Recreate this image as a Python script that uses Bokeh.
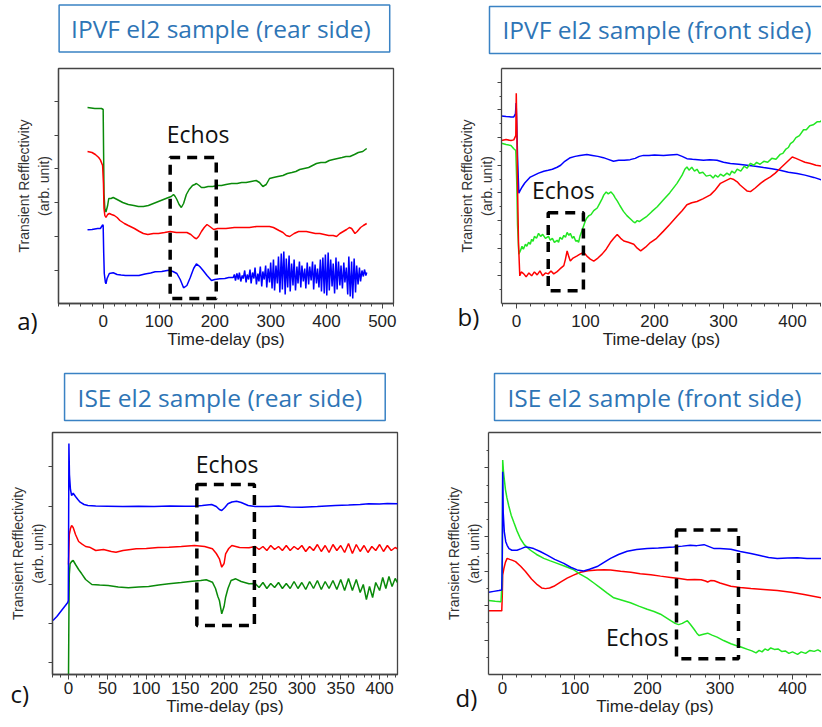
from bokeh.plotting import figure
from bokeh.layouts import row, column
from bokeh.models import (Label, BoxAnnotation, SingleIntervalTicker, FixedTicker, Range1d, LinearAxis)
from bokeh.embed import file_html
from bokeh.resources import INLINE

# ---------------- data (time-delay in ps, signal in arbitrary units) ----------------
A_GREEN = [(-28,196),(-15,195),(-3,195),(0,194),(0.8,150),(1.5,110),(3,95),(5,91.5),(8,98),(10,105),
           (14,105),(18,106),(25,104),(35,101),(45,99),(55,98),(63,97),(72,97),(81,98),(90,100),(99,102),
           (108,104),(117,106),(122,107),(126,109),(129,107),(132,104),(136,99),(140,96),(144,100),
           (149,109),(154,114),(160,118),(164,119),(167,120),(172,118),(176,116),(181,116),(188,117),
           (196,117),(205,118),(212,118),(220,119),(230,120),(240,120),(248,121),(256,121),(265,122),
           (274,123),(280,121),(286,117),(292,119),(298,125),(305,126),(313,127),(322,128),(330,130),
           (338,131),(345,132),(352,134),(360,135),(368,136),(375,138),(382,140),(390,141),(398,141),
           (405,143),(412,144),(420,145),(428,146),(435,147),(442,147),(450,149),(457,151),(465,152),(472,155)]
A_RED = [(-28,152),(-20,151),(-14,149),(-8,146),(-5,143.6),(-1,138),(0.5,120),(1.5,95),(3,88),(5,86),
         (8,89),(11,90),(15,89),(20,88),(25,86),(30,83),(38,80),(45,78),(56,75),(65,72),(72,70),(80,69),
         (90,70),(99,70),(110,71),(120,72),(131,71),(140,71),(150,71),(157,69),(163,66),(167,64.7),
         (171,67),(176,72),(181,76),(186,79),(191,77),(198,74),(205,75),(212,75),(220,75),(235,76),
         (250,76),(262,76),(275,77),(285,77),(298,77),(305,76),(315,73),(322,71),(328,68),(334,67),
         (342,70),(350,72),(358,72),(364,72),(372,71),(380,70),(388,70),(396,69),(404,68),(412,68),
         (418,67),(424,70),(430,72),(436,74),(441,76),(445,75),(451,70),(455,72),(461,76),(466,78),(472,80)]
A_BLUE = [(-28,73.7),(-20,74),(-10,75),(-5,75),(-1,78.7),(0,78),(1,50),(2,30),(4,21),(5,19.7),(7,25),
          (11,30),(18,30.7),(25,29),(32,28.5),(40,28),(50,28),(64,28),(75,29.5),(85,30.5),(93,31.7),
          (105,32),(117,33.3),(125,32),(132,30),(138,24),(144,15.7),(150,18),(156,26),(162,35),(167,39.7),
          (173,37),(179,33),(186,28),(194,23),(200,24),(209,24.7),(218,25),(225,26),(233,26),
          (235,29),(237,23),(239.5,30),(242,24),(244,31),(246.5,22),(249,28),(251,25),(253.5,33),(256,21),
          (258,29),(260.5,24),(263,34),(265,20),(267.5,31),(270,25),(272,36),(274.5,19),(277,30),(279,22),
          (281.5,37),(284,17),(286,32),(288.5,24),(291,38),(293,16),(295.5,35),(298,21),(300,41),(302.5,15),
          (305,44),(307,13),(309.5,38),(312,20),(314,47),(316.5,11),(319,50),(321,14),(323.5,52),(326,9),
          (328,45),(330.5,16),(333,48),(335,12),(337.5,40),(340,18),(342,44),(344.5,13),(347,37),(349,20),
          (351.5,42),(354,16),(356,38),(358.5,22),(361,35),(363,15),(365.5,41),(368,19),(370,37),(372.5,23),
          (375,42),(377,14),(379.5,39),(382,20),(384,35),(386.5,16),(389,44),(391,12),(393.5,46),(396,10),
          (398,49),(400.5,8),(403,51),(405,13),(407.5,44),(410,17),(412,40),(414.5,10),(417,46),(419,14),
          (421.5,42),(424,18),(426,38),(428.5,15),(431,41),(433,21),(435.5,36),(438,9),(440,47),(442.5,7),
          (445,42),(447,5),(449.5,45),(452,11),(454,38),(456.5,19),(459,36),(461,22),(463.5,33),(466,27),
          (468,34),(470.5,28),(472,31)]

B_BLUE = [(-21.7,190),(-15,189.5),(-8,189),(-3.9,189),(-1.5,192),(-0.5,203),(0.3,185),(1.5,150),
          (3.4,111.7),(5,114),(8.2,118),(12,122),(16,125),(20,128),(26,130),(32,132),(39.6,134),(46,135),
          (52,136),(58.9,138),(64,140),(70,144),(78,147.7),(85,149),(92,150),(102,151),(110,150),(118,149),
          (126,147.7),(133,146),(140.6,144),(148,145),(156,145),(164.7,145.7),(172,147),(178,149),(184,150),
          (192,150),(200,150.5),(213,150),(222,150.5),(232.6,151),(240,149),(247,146.7),(255,146),
          (263,145.5),(271,145),(280,145.5),(290.6,145),(300,143),(310,141.7),(322,141),(334,140),
          (346,139),(358,137.7),(370,136.5),(382,135),(394,133),(406.7,131.7),(418,130),(430.9,127.7),(443,125)]
B_RED = [(-21.7,165),(-15,166),(-8,165),(-3.9,165.7),(-1,170),(-0.3,213),(0.5,180),(1.5,120),(3,60),
         (4.8,28),(7,32),(10.6,30),(14,27),(18,31),(22,28),(26,32),(30,29),(34,33),(38,28),(42,31),(46,30),
         (50,33),(54,30),(58.9,32.3),(63,35),(68.6,38.3),(71,45),(73.4,53.3),(76,47),(78,43),(82,46),
         (87.9,48.3),(92,50),(97.5,51.7),(102,48),(107,45),(112,43),(118,46),(124,50),(130,55),(136,61.7),
         (141,66),(146,70),(151,66),(155.6,63.3),(162,62),(170,60),(175,56),(180,53.3),(187,57),(194,61.7),
         (203,66),(213,73.3),(222,80),(232.6,88.3),(240,94),(247,100),(254,102),(261.6,103.3),(270,106),
         (281,110),(288,115),(295.6,121.7),(302,124),(310,126.7),(315,125.5),(319.8,123.3),(324,120),
         (329.5,116.7),(334,114),(339.1,113.3),(346,117),(353.6,121.7),(360,125),(368,128.3),(375,132),
         (382,136.7),(390,142),(399.6,148.3),(405,147),(411.6,145),(418,143),(426,141.7),(434,140),(443,139)]
B_GREEN = [(-21.7,162.3),(-15,161),(-8,160),(-3.9,156.7),(-1,155),(0.5,120),(1.5,80),(3.4,50),(6,54),
           (8,58),(10,55),(13,60),(15,58),(17.6,62),(20,60),(22,65),(24,63),(26,68),(29,66),(32,71),(35,68),
           (38,70),(42,66),(46.4,68),(49,64),(52,66),(55,62),(58.9,64),(61,62),(63,67),(66,65),(68.6,69),
           (71,67),(73.4,72),(76,69),(78,71),(81,66),(83,68),(86,63),(88,64),(90,62),(92,68),(95,74),(97,78),
           (100,84),(102,86.7),(105,89),(108,90),(112,94),(117,96.7),(121,102),(124,106),(126.6,110),
           (130,113),(133,111),(137,113),(140.6,110),(143,107),(146,104),(150,99),(155,93.3),(160,89),
           (166,85),(169,83),(172,81.7),(175,84),(178,83),(184,86),(189,88.3),(196,93),(204,98),(213,105),
           (222,112),(232.6,121.7),(240,130),(244,136),(247,138.3),(250,135),(254,138),(258,134),(261.6,136),
           (265,132),(270,133),(275,129),(281,130),(285,127),(288,130),(292,128),(295.6,131),(300,129),
           (305,132),(309,130),(312,134),(316,132),(319.8,136),(325,134),(330,139),(334,137),(339.1,142),
           (344,140),(348,143),(353,141),(358.4,144),(364,143),(370,147),(376,146),(382,151),(386,152),
           (390,156),(394,158),(397,162),(401,164),(405,168),(410,170),(416,176),(420,176),(425,180),
           (430,181),(435.6,184),(440,184),(443,186)]

C_BLUE = [(-20,54),(-15,58),(-10,63),(-5,68),(-1,72),(-0.3,74),(0,120),(0.5,231),(1.2,200),(2.5,185),
          (4,179),(6,181.3),(9,178),(12,175),(15,172.3),(20,170),(25,169),(35,168.5),(50,168.3),(70,168),
          (90,168.3),(110,168),(130,168.5),(150,168.3),(162,168.3),(172,169),(184,170),(190,168),(194,165),
          (197,164),(201,167),(205,170.7),(210,172.5),(216,173.3),(222,172),(231,169),(240,168),(257,168),
          (270,168.5),(285,167.5),(300,167.3),(320,168),(343,169),(360,169.5),(375,170),(386,170.7),
          (400,170.5),(410,171),(424,170.7)]
C_RED = [(0,110),(1,140),(2.5,146),(4,149),(6,147),(9,140),(13,133),(17,130.7),(22,128),(27,127.3),
         (35,124),(45,125),(55,123),(61,122.3),(70,124),(80,125),(87,125.7),(100,126),(115,127),(129,127.3),
         (145,128),(162,129),(175,128),(185,125.7),(190,121),(194,115.7),(197,107.3),(200,111),(202,120.7),
         (206,126),(210,129),(220,127),(232,126.7),(240,128),(245,125),(250,128),(255,124),(260,129),
         (265,125),(270,128),(275,124),(280,129),(285,124),(290,128),(295,125),(300,129),(305,123),
         (310,128),(315,124),(320,130),(325,123),(330,129),(335,122),(340,130),(345,124),(350,129),
         (355,122),(360,131),(365,121),(370,130),(375,123),(380,129),(385,122),(390,128),(395,124),
         (400,130),(405,123),(410,129),(415,124),(420,127),(423,125.7)]
C_GREEN = [(0,0),(0.5,60),(1,100),(2,110.7),(4,113),(6,114),(9,110),(13,105),(17,100.7),(22,95),(30,90),
           (40,89.5),(51,89),(64,87.5),(77,86.7),(90,87.5),(103,88),(116,89.5),(129,90.7),(145,92),
           (159,93.3),(170,94),(177,94.7),(185,92.3),(189,86),(192,78),(194,74),(197,60.7),(200,68),
           (202,77.3),(205,86),(209,94),(215,95.7),(222,93),(232,90.7),(240,91),(245,87),(250,92),(255,86),
           (260,91),(265,87),(270,92),(275,86),(280,91),(285,86),(290,93),(295,86),(300,92),(305,85),
           (310,93),(315,86),(320,94),(325,85),(330,93),(335,86),(340,94),(345,85),(350,95),(355,84),
           (360,96),(365,84),(370,95),(375,82),(379,90),(383,75),(387,88),(391,77),(395,92),(400,84),
           (404,97),(408,86),(412,98),(416,88),(420,96),(423,92)]

D_BLUE = [(-19,83.7),(-12,84.5),(-5,85.3),(-1,86),(-0.3,120),(0.3,206),(1,164.7),(2.5,145),(4.5,135),
          (6.4,131.3),(9,128),(13,126.3),(20,126.3),(26,128),(31.7,129.7),(37,129),(43,128),(52,125),
          (61.6,121.3),(72,117),(84.6,113),(94,109),(103,106.3),(112,105.3),(120,107),(130.6,109.7),
          (140,114),(149,118),(160,122),(172,125.3),(185,127),(199.6,128),(215,128.5),(236,129.7),
          (248,130.5),(259,131.3),(268,131),(278,132),(285,130),(292,128),(300,128),(315,127.3),(328,125),
          (342.5,123),(355,121),(367,119),(379,118),(393,118.5),(407,118.7),(420,118),(440,118)]
D_RED = [(-19,64.7),(-10,64.7),(-1,64.7),(-0.3,80),(0.3,101.3),(2,108),(4,114),(6.4,118),(10,117),
         (14,116),(18,114.7),(25,110),(31.7,104.7),(40,97),(48,91.3),(54,88),(59.3,87.3),(65,88),
         (70.8,89.7),(80,94),(89.2,98),(98,101),(107.6,104),(118,105.5),(130.6,106.3),(140,106.5),
         (149,106.3),(163,105),(177,104),(190,102.5),(204.6,101.3),(218,100),(232,98.7),(244,97.5),
         (255,96.3),(265,96.5),(274,96.3),(280,95),(283,94),(287,95.5),(292,95.3),(300,93),(315,89.7),
         (328,88.5),(342.5,87.3),(360,86.5),(379,85.3),(398,83.5),(416,81.3),(440,78)]
D_GREEN = [(-19,75.3),(-10,74.5),(-2,74),(-0.3,100),(0.3,218),(1.5,205),(4.1,188),(6,180),(8.7,171.3),
           (12,162),(15.6,154.7),(20,146),(24.8,138),(30,132),(38.6,126.3),(47,122),(57,118),(66,115.5),
           (75.4,113),(86,110),(98.4,106.3),(107,102),(116.8,98),(126,93),(135,88),(144,83),(153.5,78),
           (165,75.5),(176.5,73),(188,69.5),(199.6,66.3),(209,64),(218,61.3),(225,58),(232,54.7),(238,52),
           (243,50.7),(248,52),(253,54),(255,54.7),(259,51),(264,46.3),(268,42),(271,39.7),(277,41),
           (283,42),(289,40),(296,38),(305,34.5),(315,31.3),(322,29.5),(329,28),(338,25.5),(344,24),
           (349.7,22),(354,24.5),(358,23),(362,26),(366,24.5),(370,27),(375,25.5),(380,26),(385,23.5),
           (390,24),(395,21.5),(400,23),(407,20.5),(412,23),(418,21.5),(424,24.5),(430,23.5),(435,25),(440,23)]

# echo windows: (t_start, t_end, low, high) and "Echos" label anchor (t, level)
ECHO_BOX = {"a": (120, 202.5, 5, 146), "b": (46, 97, 13, 92), "c": (165, 239, 49, 190), "d": (240, 325.5, 16, 147)}
ECHO_TXT = {"a": (170, 170), "b": (68, 115), "c": (204, 211), "d": (186, 38)}

TITLES = {"a": "IPVF el2 sample (rear side)", "b": "IPVF el2 sample (front side)",
          "c": "ISE el2 sample (rear side)", "d": "ISE el2 sample (front side)"}
# title-box anchors (t, level) and panel tag anchors (t, level), in each panel's data units
TITLE_POS = {"a": (-78.9, 275), "b": (-39.1, 277), "c": (-5.1, 277.5), "d": (-11.0, 282)}
TITLE_PAD = {"a": (12, 19), "b": (13, 40), "c": (13, 23), "d": (13, 40)}
TAG_POS = {"a": (-154.1, -17), "b": (-85.5, -13), "c": (-74.6, -19), "d": (-64.8, -23)}

BLUE, RED, DGREEN, LGREEN = "#0000ff", "#ff0000", "#0a8a0a", "#22e622"
TITLE_BLUE = "#2e75b6"
AX = "#444444"


def unzip(pairs):
    return [q[0] for q in pairs], [q[1] for q in pairs]


def panel(key, w, h, ml, mr, mt, mb, xr, yr, xint, yticks, yminor, curves, tag_side, full_box,
          lab_standoff):
    p = figure(width=w, height=h, x_range=Range1d(*xr), y_range=Range1d(*yr),
               output_backend="svg", toolbar_location=None, tools="",
               min_border_left=ml, min_border_right=mr, min_border_top=mt, min_border_bottom=mb)
    p.grid.visible = False
    p.background_fill_color = "white"
    p.border_fill_color = "white"
    if full_box:
        p.outline_line_color = AX
        p.outline_line_width = 1.3
    else:
        p.outline_line_color = None
        top = LinearAxis(ticker=FixedTicker(ticks=[]), axis_line_color=AX, axis_line_width=1.3,
                         major_tick_out=0, major_tick_in=0, minor_tick_out=0, minor_tick_in=0,
                         major_label_text_font_size="1px", major_label_text_color=None,
                         major_label_standoff=0)
        p.add_layout(top, "above")
    for pairs, col in curves:
        t, v = unzip(pairs)
        p.line(t, v, line_color=col, line_width=1.5)

    xa = p.below[0]
    xa.ticker = SingleIntervalTicker(interval=xint, num_minor_ticks=5)
    xa.axis_line_color = AX
    xa.axis_line_width = 1.3
    xa.major_tick_line_color = AX
    xa.minor_tick_line_color = AX
    xa.major_tick_in = 0
    xa.major_tick_out = 5
    xa.minor_tick_in = 0
    xa.minor_tick_out = 3
    xa.major_label_text_font = "Liberation Sans"
    xa.major_label_text_font_size = "17px"
    xa.major_label_text_color = "#222222"
    xa.major_label_standoff = lab_standoff
    xa.axis_label = "Time-delay (ps)"
    xa.axis_label_text_font = "Liberation Sans"
    xa.axis_label_text_font_size = "17px"
    xa.axis_label_text_font_style = "normal"
    xa.axis_label_text_color = "#222222"
    xa.axis_label_standoff = 0

    ya = p.left[0]
    ya.ticker = FixedTicker(ticks=yticks, minor_ticks=yminor)
    ya.axis_line_color = AX
    ya.axis_line_width = 1.3
    ya.major_tick_line_color = AX
    ya.minor_tick_line_color = AX
    ya.major_tick_in = 0
    ya.major_tick_out = 4
    ya.minor_tick_in = 0
    ya.minor_tick_out = 2
    ya.major_label_text_font_size = "1px"
    ya.major_label_text_color = None
    ya.major_label_standoff = 0
    ya.axis_label = "Transient Refflectivity\n(arb. unit)"
    ya.axis_label_text_font = "Liberation Sans"
    ya.axis_label_text_font_size = "14px"
    ya.axis_label_text_font_style = "normal"
    ya.axis_label_text_color = "#333333"
    ya.axis_label_standoff = 3

    b = ECHO_BOX[key]
    p.add_layout(BoxAnnotation(left=b[0], right=b[1], bottom=b[2], top=b[3], fill_color=None,
                               fill_alpha=0, line_color="black", line_alpha=1.0, line_width=3.5,
                               line_dash="10 7"))
    et = ECHO_TXT[key]
    p.add_layout(Label(x=et[0], y=et[1], text="Echos", text_font="Open Sans", text_font_size="23px",
                       text_align="center", text_baseline="middle", text_color="#111111"))

    tx, ty = TITLE_POS[key]
    pl, pr = TITLE_PAD[key]
    p.add_layout(Label(x=tx, y=ty, text=TITLES[key], text_font="Open Sans", text_font_size="24.5px",
                       text_color=TITLE_BLUE, text_align="left", text_baseline="middle",
                       border_line_color="#3a82c4", border_line_width=1.5,
                       padding=dict(left=pl, right=pr, top=7, bottom=7)), "above")
    gx, gy = TAG_POS[key]
    p.add_layout(Label(x=gx, y=gy, text=key + ")", text_font="Open Sans", text_font_size="24px",
                       text_color="#111111", text_align="left", text_baseline="middle"), tag_side)
    return p


pa = panel("a", 425, 365, 58, 32, 68, 62, (-80, 520), (0, 235), 100,
           [33, 67, 101, 135, 168, 202], [], [(A_GREEN, DGREEN), (A_RED, RED), (A_BLUE, BLUE)],
           "right", True, 6)
pb = panel("b", 396, 365, 76, 0, 67, 60, (-21.7, 442), (0, 238), 100,
           [28 * k for k in range(1, 9)], [28 * k + 14 for k in range(0, 8)],
           [(B_BLUE, BLUE), (B_GREEN, LGREEN), (B_RED, RED)], "left", False, 6)
pc = panel("c", 420, 361, 52, 23, 67, 52, (-20.6, 423), (0, 242), 50,
           [12, 51, 90, 130, 168, 208], [], [(C_GREEN, DGREEN), (C_RED, RED), (C_BLUE, BLUE)],
           "right", True, 2)
pd_ = panel("d", 401, 361, 68, 0, 67, 48, (-19.3, 440), (0, 246), 100,
            [35 * k for k in range(1, 7)], [35 * k + 17.5 for k in range(0, 7)],
            [(D_RED, RED), (D_GREEN, LGREEN), (D_BLUE, BLUE)], "left", False, 2)

layout = column(row(pa, pb, spacing=0), row(pc, pd_, spacing=0), spacing=0)
open("out.html", "w").write(file_html(layout, INLINE))
